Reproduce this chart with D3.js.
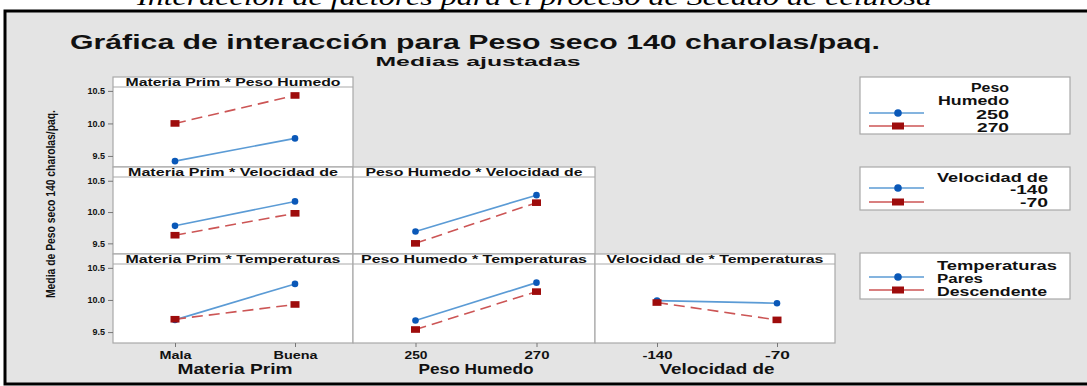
<!DOCTYPE html>
<html><head><meta charset="utf-8">
<script src="https://cdn.jsdelivr.net/npm/d3@7"></script>
<style>
body{margin:0;background:#fff;}
svg{display:block;font-family:"Liberation Sans",Arial,sans-serif;}
</style></head>
<body>
<svg id="c" width="1087" height="386"></svg>
<script>
// ---- data ----
const materiaPrim = ["Mala","Buena"];
const pesoHumedo = ["250","270"];
const velocidad = ["-140","-70"];
const temperaturas = ["Pares","Descendente"];
const yTicks = [9.5, 10.0, 10.5];

// each panel: values per trace level (in x order)
const mpPh_250 = [9.42, 9.77];
const mpPh_270 = [10.00, 10.43];
const mpVel_m140 = [9.78, 10.17];
const mpVel_m70 = [9.63, 9.98];
const phVel_m140 = [9.69, 10.27];
const phVel_m70 = [9.50, 10.15];
const mpTemp_pares = [9.69, 10.25];
const mpTemp_desc = [9.70, 9.93];
const phTemp_pares = [9.68, 10.27];
const phTemp_desc = [9.54, 10.13];
const velTemp_pares = [9.99, 9.95];
const velTemp_desc = [9.96, 9.69];

const panels = [
  {row:0,col:0,title:"Materia Prim * Peso Humedo",x:materiaPrim,series:[mpPh_250,mpPh_270]},
  {row:1,col:0,title:"Materia Prim * Velocidad de",x:materiaPrim,series:[mpVel_m140,mpVel_m70]},
  {row:1,col:1,title:"Peso Humedo * Velocidad de",x:pesoHumedo,series:[phVel_m140,phVel_m70]},
  {row:2,col:0,title:"Materia Prim * Temperaturas",x:materiaPrim,series:[mpTemp_pares,mpTemp_desc]},
  {row:2,col:1,title:"Peso Humedo * Temperaturas",x:pesoHumedo,series:[phTemp_pares,phTemp_desc]},
  {row:2,col:2,title:"Velocidad de * Temperaturas",x:velocidad,series:[velTemp_pares,velTemp_desc]}
];
const colFactors = [{name:"Materia Prim",levels:materiaPrim},{name:"Peso Humedo",levels:pesoHumedo},{name:"Velocidad de",levels:velocidad}];
const legends = [
  {title:["Peso","Humedo"],levels:pesoHumedo},
  {title:["Velocidad de"],levels:velocidad},
  {title:["Temperaturas"],levels:temperaturas}
];

// ---- layout ----
const colX = [113, 353, 595, 835];
const rowY = [77, 167, 254, 343];
const headerH = 10;
const blueLine = "#5b9bd5", blueMark = "#0a58b8";
const redLine = "#cc5555", redMark = "#9e0c0c";
const gridCol = "#a9a9a9";

const svg = d3.select("#c");

// top italic caption (cut off at the top edge in the reference)
svg.append("text").attr("x",137).attr("y",5)
  .attr("font-family","'Liberation Serif','Times New Roman',serif")
  .attr("font-style","italic").attr("font-size",24)
  .attr("textLength",795).attr("lengthAdjust","spacingAndGlyphs")
  .text("Interacción de factores para el proceso de Secado de celulosa");

// frame
svg.append("rect").attr("x",5).attr("y",11).attr("width",1100).attr("height",373)
  .attr("fill","#e4e4e4").attr("stroke","#000").attr("stroke-width",3);

// titles
svg.append("text").attr("x",70).attr("y",49).attr("font-weight","bold").attr("font-size",20)
  .attr("textLength",810).attr("lengthAdjust","spacingAndGlyphs").attr("fill","#111")
  .text("Gráfica de interacción para Peso seco 140 charolas/paq.");
svg.append("text").attr("x",478).attr("y",66).attr("text-anchor","middle").attr("font-weight","bold").attr("font-size",13)
  .attr("textLength",205).attr("lengthAdjust","spacingAndGlyphs").attr("fill","#111")
  .text("Medias ajustadas");

// y axis title
svg.append("text").attr("transform","translate(55,204) rotate(-90)").attr("text-anchor","middle")
  .attr("font-size",12.5).attr("font-weight","bold").attr("textLength",188).attr("lengthAdjust","spacingAndGlyphs").attr("fill","#111")
  .text("Media de Peso seco 140 charolas/paq.");

function yScale(r){ return d3.scaleLinear().domain([9.33,10.56]).range([rowY[r+1], rowY[r]+headerH]); }
function xScale(c, levels){ return d3.scalePoint().domain(levels).range([colX[c]+2, colX[c+1]+2]).padding(0.5); }

const titleWidths = [215, 210, 217, 215, 226, 217];

panels.forEach((p,i)=>{
  const x0=colX[p.col], x1=colX[p.col+1], y0=rowY[p.row], y1=rowY[p.row+1];
  const g = svg.append("g");
  g.append("rect").attr("x",x0).attr("y",y0).attr("width",x1-x0).attr("height",y1-y0)
    .attr("fill","#fff").attr("stroke",gridCol).attr("stroke-width",1.2);
  g.append("line").attr("x1",x0).attr("x2",x1).attr("y1",y0+headerH).attr("y2",y0+headerH).attr("stroke",gridCol).attr("stroke-width",1.2);
  g.append("text").attr("x",(x0+x1)/2).attr("y",y0+headerH-1).attr("text-anchor","middle")
    .attr("font-size",10).attr("font-weight","bold").attr("fill","#111")
    .attr("textLength",titleWidths[i]).attr("lengthAdjust","spacingAndGlyphs").text(p.title);
  const xs = xScale(p.col, p.x), ys = yScale(p.row);
  const line = d3.line().x((d,j)=>xs(p.x[j])).y(d=>ys(d));
  p.series.forEach((s,k)=>{
    g.append("path").datum(s).attr("d",line).attr("fill","none")
      .attr("stroke",k===0?blueLine:redLine).attr("stroke-width",1.6)
      .attr("stroke-dasharray",k===0?null:"11,6");
  });
  p.series.forEach((s,k)=>{
    s.forEach((v,j)=>{
      if(k===0) g.append("circle").attr("cx",xs(p.x[j])).attr("cy",ys(v)).attr("r",3.3).attr("fill",blueMark);
      else g.append("rect").attr("x",xs(p.x[j])-4.5).attr("y",ys(v)-3.3).attr("width",9).attr("height",6.6).attr("fill",redMark);
    });
  });
});

// y axis ticks for each row (left column)
[0,1,2].forEach(r=>{
  const ys = yScale(r);
  const ax = svg.append("g").attr("transform",`translate(${colX[0]},0)`)
    .call(d3.axisLeft(ys).tickValues(yTicks).tickFormat(d3.format(".1f")).tickSize(5).tickPadding(3));
  ax.select(".domain").remove();
  ax.selectAll("line").attr("stroke","#777");
  ax.selectAll("text").attr("font-size",9).attr("font-weight","bold").attr("fill","#111")
    .attr("font-family","'Liberation Sans',Arial,sans-serif");
});

// x axes below bottom row
const xLabelW = {"Mala":32,"Buena":44,"250":23,"270":25,"-140":30,"-70":25};
colFactors.forEach((f,c)=>{
  const xs = xScale(c, f.levels);
  const ax = svg.append("g").attr("transform",`translate(0,${rowY[3]})`)
    .call(d3.axisBottom(xs).tickSize(4).tickPadding(4));
  ax.select(".domain").remove();
  ax.selectAll("line").attr("stroke","#777");
  ax.selectAll("text").attr("font-size",11).attr("font-weight","bold").attr("fill","#111")
    .attr("font-family","'Liberation Sans',Arial,sans-serif")
    .attr("textLength",d=>xLabelW[d]).attr("lengthAdjust","spacingAndGlyphs");
  svg.append("text").attr("x",(colX[c]+colX[c+1])/2+2).attr("y",374).attr("text-anchor","middle")
    .attr("font-size",14).attr("font-weight","bold").attr("fill","#111")
    .attr("textLength",115).attr("lengthAdjust","spacingAndGlyphs").text(f.name);
});

// legends
const legBoxes = [{y:77,h:57},{y:167,h:43},{y:253,h:46}];
const legCfg = [
  {anchor:"end", tx:1009, titleY:[92,105], levelY:[119,132], markY:[113,126], tw:[38,71], lw:[33,32]},
  {anchor:"end", tx:1048, titleY:[182], levelY:[194,207], markY:[188,202], tw:[111], lw:[38,28]},
  {anchor:"start", tx:937, titleY:[270], levelY:[283,296], markY:[277,290], tw:[120], lw:[46,110]}
];
legends.forEach((L,i)=>{
  const b = legBoxes[i], cfg = legCfg[i];
  const g = svg.append("g");
  g.append("rect").attr("x",860).attr("y",b.y).attr("width",210).attr("height",b.h)
    .attr("fill","#fff").attr("stroke",gridCol).attr("stroke-width",1.2);
  L.title.forEach((t,k)=>{
    g.append("text").attr("x",cfg.tx).attr("y",cfg.titleY[k]).attr("text-anchor",cfg.anchor)
      .attr("font-size",12).attr("font-weight","bold").attr("fill","#111")
      .attr("textLength",cfg.tw[k]).attr("lengthAdjust","spacingAndGlyphs").text(t);
  });
  L.levels.forEach((lv,k)=>{
    g.append("text").attr("x",cfg.tx).attr("y",cfg.levelY[k]).attr("text-anchor",cfg.anchor)
      .attr("font-size",12).attr("font-weight","bold").attr("fill","#111")
      .attr("textLength",cfg.lw[k]).attr("lengthAdjust","spacingAndGlyphs").text(lv);
    const my = cfg.markY[k];
    g.append("line").attr("x1",869).attr("x2",924).attr("y1",my).attr("y2",my)
      .attr("stroke",k===0?blueLine:redLine).attr("stroke-width",1.6);
    if(k===0) g.append("circle").attr("cx",898).attr("cy",my).attr("r",3.8).attr("fill",blueMark);
    else g.append("rect").attr("x",892).attr("y",my-3.5).attr("width",12).attr("height",7).attr("fill",redMark);
  });
});
</script>
</body></html>
